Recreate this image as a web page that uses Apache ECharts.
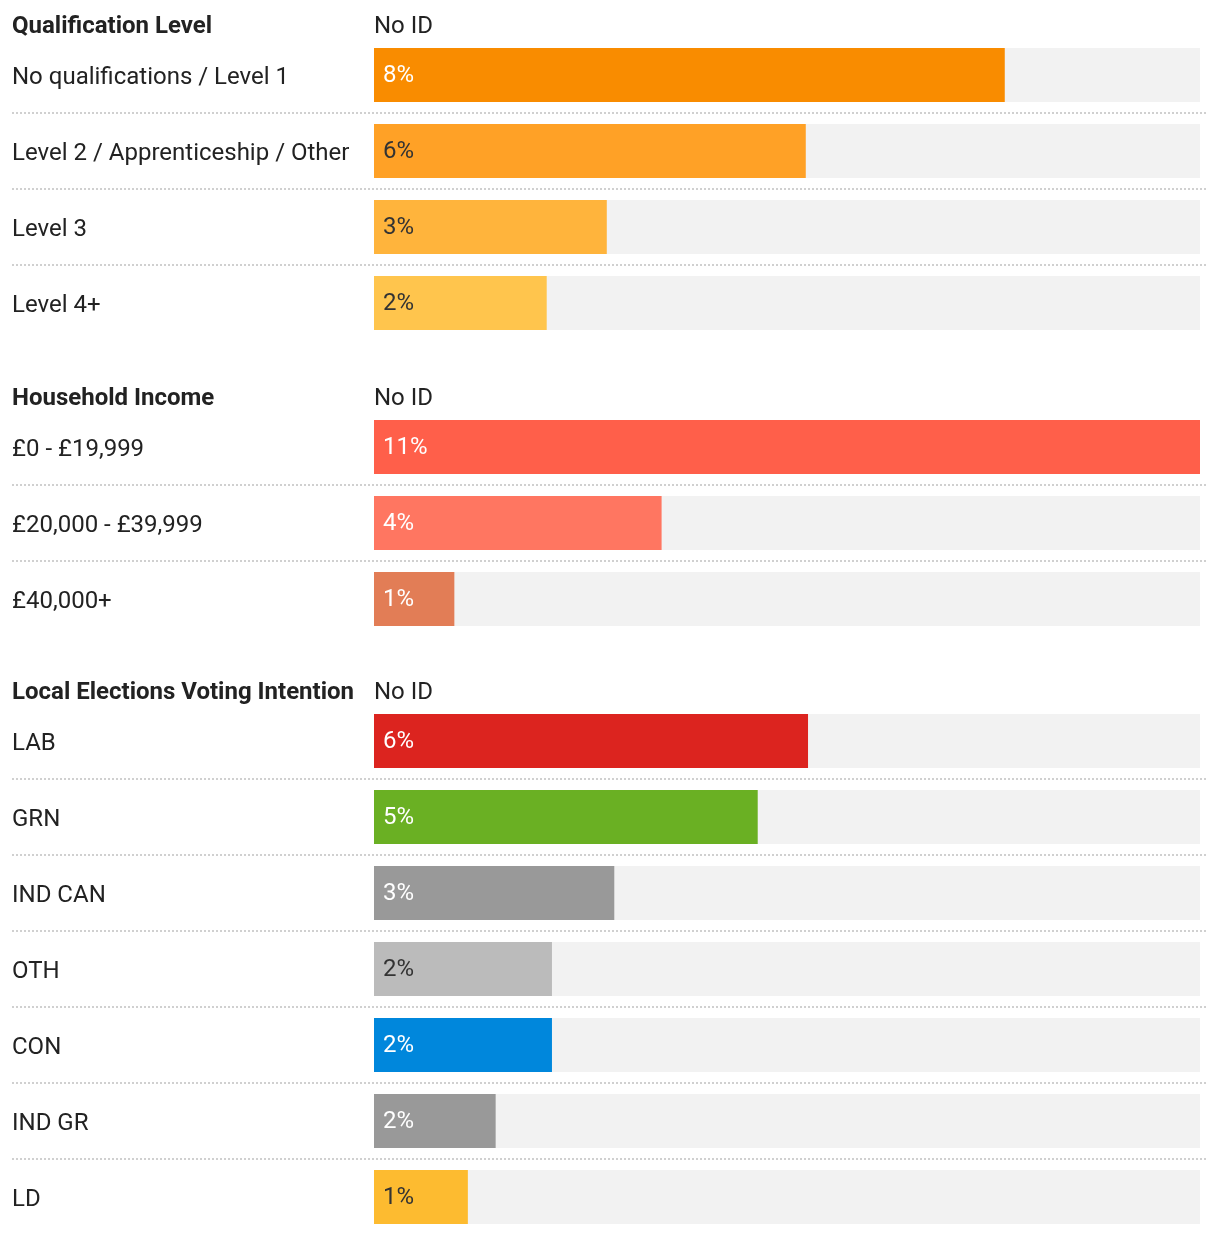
<!DOCTYPE html>
<html>
<head>
<meta charset="utf-8">
<script src="https://cdn.jsdelivr.net/npm/echarts@6/dist/echarts.min.js"></script>
<style>
html,body{margin:0;padding:0;background:#fff;}
#chart{width:1220px;height:1236px;}
</style>
</head>
<body>
<div id="chart"></div>
<script>
// ---- data ----
const sectionTitles = ["Qualification Level", "Household Income", "Local Elections Voting Intention"];
const columnTitle = "No ID";

const qualCategories = ["No qualifications / Level 1", "Level 2 / Apprenticeship / Other", "Level 3", "Level 4+"];
const qualValues = [8.4, 5.75, 3.1, 2.3];
const qualColors = ["#f98c00", "#ffa126", "#ffb43c", "#ffc54d"];
const qualLabelColors = ["#ffffff", "#333333", "#333333", "#333333"];

const incomeCategories = ["£0 - £19,999", "£20,000 - £39,999", "£40,000+"];
const incomeValues = [11, 3.83, 1.07];
const incomeColors = ["#ff5f4a", "#ff7661", "#e27d56"];
const incomeLabelColors = ["#ffffff", "#ffffff", "#ffffff"];

const voteCategories = ["LAB", "GRN", "IND CAN", "OTH", "CON", "IND GR", "LD"];
const voteValues = [5.78, 5.11, 3.2, 2.37, 2.37, 1.62, 1.25];
const voteColors = ["#dc241f", "#6ab023", "#999999", "#bbbbbb", "#0087dc", "#999999", "#fdbb30"];
const voteLabelColors = ["#ffffff", "#ffffff", "#ffffff", "#333333", "#ffffff", "#ffffff", "#333333"];

const axisMax = 11;

// ---- layout ----
const FONT = "Roboto";
const FS = 24;
const ROW = 76;
const sections = [
  {cats: qualCategories, vals: qualValues, colors: qualColors, lcolors: qualLabelColors, top: 37},
  {cats: incomeCategories, vals: incomeValues, colors: incomeColors, lcolors: incomeLabelColors, top: 409},
  {cats: voteCategories, vals: voteValues, colors: voteColors, lcolors: voteLabelColors, top: 703}
];

const grid = [], xAxis = [], yAxis = [], series = [], title = [];
sections.forEach((s, i) => {
  const h = s.cats.length * ROW;
  // separator grid (full width)
  grid.push({left: 12, right: 12, top: s.top, height: h, containLabel: false});
  xAxis.push({gridIndex: grid.length - 1, type: 'value', show: false, min: 0, max: axisMax});
  yAxis.push({
    gridIndex: grid.length - 1, type: 'category', data: s.cats, inverse: true,
    axisLine: {show: false}, axisTick: {show: false}, axisLabel: {show: false},
    splitLine: {show: true, showMinLine: false, showMaxLine: false,
      lineStyle: {color: '#d0d0d0', width: 2, type: [2, 2]}}
  });
  // bar grid
  grid.push({left: 374, right: 20, top: s.top, height: h, containLabel: false});
  const gi = grid.length - 1;
  xAxis.push({gridIndex: gi, type: 'value', show: false, min: 0, max: axisMax});
  yAxis.push({
    gridIndex: gi, type: 'category', data: s.cats, inverse: true,
    axisLine: {show: false}, axisTick: {show: false}, splitLine: {show: false},
    axisLabel: {align: 'left', verticalAlign: 'middle', margin: 362,
      formatter: v => '{a|' + v + '}',
      rich: {a: {color: '#222', fontFamily: FONT, fontSize: FS, padding: [6, 0, 0, 0]}}}
  });
  series.push({
    type: 'bar', xAxisIndex: gi, yAxisIndex: gi, barWidth: 54,
    showBackground: true, backgroundStyle: {color: '#f2f2f2'},
    data: s.vals.map((v, k) => ({value: v, itemStyle: {color: s.colors[k]}, label: {color: s.lcolors[k]}})),
    label: {show: true, position: 'insideLeft', distance: 10, offset: [-1, 1], fontFamily: FONT, fontSize: FS,
      formatter: p => Math.round(p.value) + '%'},
    animation: false, silent: true
  });
  title.push({text: sectionTitles[i], left: 12, top: s.top - 22,
    textStyle: {fontFamily: FONT, fontSize: FS, fontWeight: 'bold', color: '#222', lineHeight: 24}});
  title.push({text: columnTitle, left: 374, top: s.top - 22,
    textStyle: {fontFamily: FONT, fontSize: FS, fontWeight: 'normal', color: '#222', lineHeight: 24}});
});
title.forEach(t => { t.padding = 0; });

const chart = echarts.init(document.getElementById('chart'), null, {renderer: 'canvas'});
chart.setOption({animation: false, backgroundColor: '#fff', title, grid, xAxis, yAxis, series});
</script>
</body>
</html>
